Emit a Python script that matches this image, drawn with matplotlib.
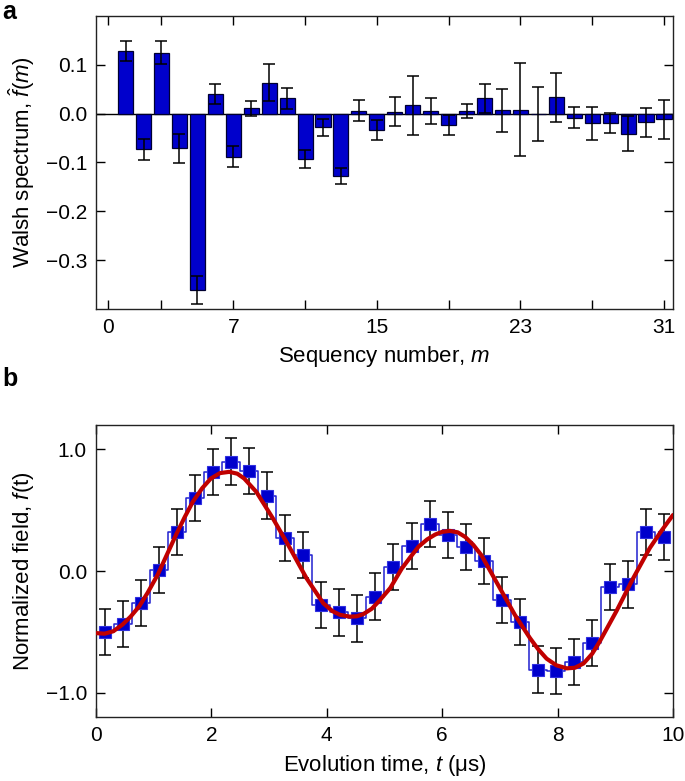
import numpy as np
import matplotlib
matplotlib.use('Agg')
import matplotlib.pyplot as plt

plt.rcParams['font.family'] = ['Liberation Sans', 'DejaVu Sans']
plt.rcParams['mathtext.fontset'] = 'custom'
plt.rcParams['mathtext.rm'] = 'Liberation Sans'
plt.rcParams['mathtext.it'] = 'Liberation Sans:italic'
plt.rcParams['axes.unicode_minus'] = True

# panel a: Walsh spectrum
seq = list(range(1, 32))
walsh = [0.128, -0.073, 0.125, -0.071, -0.361, 0.040, -0.088, 0.011, 0.063, 0.031,
         -0.093, -0.028, -0.128, 0.006, -0.034, 0.004, 0.017, 0.005, -0.023, 0.005,
         0.031, 0.007, 0.008, -0.001, 0.033, -0.008, -0.020, -0.019, -0.041, -0.018,
         -0.012]
walsh_err = [0.020, 0.022, 0.024, 0.030, 0.028, 0.021, 0.021, 0.015, 0.038, 0.021,
             0.019, 0.017, 0.016, 0.021, 0.020, 0.030, 0.060, 0.027, 0.020, 0.014,
             0.030, 0.044, 0.095, 0.056, 0.050, 0.022, 0.034, 0.020, 0.036, 0.029,
             0.040]

# panel b: reconstructed field
t_bins = [0.156, 0.469, 0.781, 1.094, 1.406, 1.719, 2.031, 2.344, 2.656, 2.969,
          3.281, 3.594, 3.906, 4.219, 4.531, 4.844, 5.156, 5.469, 5.781, 6.094,
          6.406, 6.719, 7.031, 7.344, 7.656, 7.969, 8.281, 8.594, 8.906, 9.219,
          9.531, 9.844]
field = [-0.50, -0.435, -0.26, 0.01, 0.32, 0.60, 0.815, 0.90, 0.825, 0.62,
         0.27, 0.13, -0.28, -0.34, -0.39, -0.21, 0.035, 0.205, 0.386, 0.296,
         0.20, 0.08, -0.24, -0.42, -0.81, -0.82, -0.75, -0.59, -0.13, -0.11,
         0.32, 0.28]
field_err = [0.19] * 32

# red curve
t_fit = [0.0, 0.15, 0.30, 0.46, 0.60, 0.75, 0.90, 1.07, 1.23, 1.39, 1.54, 1.68, 1.84,
         1.99, 2.15, 2.31, 2.45, 2.57, 2.78, 3.07, 3.36, 3.65, 3.94, 4.10, 4.23, 4.40,
         4.52, 4.63, 4.78, 4.92, 5.10, 5.30, 5.45, 5.59, 5.74, 5.88, 6.00, 6.13, 6.27,
         6.40, 6.54, 6.68, 6.97, 7.26, 7.52, 7.66, 7.81, 7.98, 8.16, 8.30, 8.45, 8.60,
         8.73, 9.02, 9.31, 9.60, 9.80, 10.0]
f_fit = [-0.51, -0.515, -0.495, -0.44, -0.375, -0.29, -0.175, -0.03, 0.135, 0.30,
         0.445, 0.57, 0.68, 0.76, 0.805, 0.815, 0.80, 0.76, 0.65, 0.43, 0.19, -0.06,
         -0.265, -0.33, -0.36, -0.375, -0.372, -0.355, -0.31, -0.24, -0.14, 0.02,
         0.115, 0.20, 0.26, 0.30, 0.322, 0.33, 0.318, 0.28, 0.215, 0.13, -0.115,
         -0.36, -0.55, -0.64, -0.72, -0.775, -0.80, -0.795, -0.76, -0.68, -0.58,
         -0.33, -0.06, 0.19, 0.33, 0.46]

fig = plt.figure(figsize=(6.85, 7.81), dpi=100)
ax1 = fig.add_axes([0.1401, 0.6044, 0.8423, 0.3752])
ax2 = fig.add_axes([0.1401, 0.0819, 0.8423, 0.3739])

for ax in (ax1, ax2):
    ax.tick_params(direction='in', top=True, right=True, length=6.5, width=1,
                   labelsize=15, pad=6.5)
    for s in ax.spines.values():
        s.set_linewidth(1.0)
        s.set_color('#222222')

# panel a
ax1.bar(seq, walsh, width=0.84, color='#0000CC', edgecolor='#000030', linewidth=0.9, zorder=2)
ax1.errorbar(seq, walsh, yerr=walsh_err, fmt='none', ecolor='black', elinewidth=1.1,
             capsize=4, capthick=1.1, zorder=3)
ax1.axhline(0, color='black', lw=1.0, zorder=1)
ax1.set_xlim(-0.65, 31.5)
ax1.set_ylim(-0.4, 0.2)
ax1.set_xticks([0, 3, 7, 11, 15, 19, 23, 27, 31])
ax1.set_xticklabels(['0', '', '7', '', '15', '', '23', '', '31'])
ax1.set_yticks([-0.3, -0.2, -0.1, 0.0, 0.1])
ax1.set_yticklabels(['\u22120.3', '\u22120.2', '\u22120.1', '0.0', '0.1'])
ax1.set_xlabel('Sequency number, $m$', fontsize=16, labelpad=5)
ax1.set_ylabel('Walsh spectrum, $\\hat{f}(m)$', fontsize=16, labelpad=6)

# panel b
ax2.step(t_bins, field, where='mid', color='#2020D0', lw=1.1, zorder=2)
ax2.errorbar(t_bins, field, yerr=field_err, fmt='none', ecolor='black', elinewidth=1.1,
             capsize=4.5, capthick=1.1, zorder=3)
ax2.plot(t_bins, field, 's', color='#0000CC', mec='#3030E0', mew=0.8, ms=8.5, zorder=4)
ax2.plot(t_fit, f_fit, color='#C00000', lw=3.0, solid_capstyle='round', zorder=5)
ax2.set_xlim(0, 10)
ax2.set_ylim(-1.2, 1.2)
ax2.set_xticks([0, 2, 4, 6, 8, 10])
ax2.set_yticks([-1.0, 0.0, 1.0])
ax2.set_yticklabels(['\u22121.0', '0.0', '1.0'])
ax2.set_xlabel('Evolution time, $t$ (\u03bcs)', fontsize=16, labelpad=6)
ax2.set_ylabel('Normalized field, $f$(t)', fontsize=16, labelpad=7)

fig.text(0.003, 1.0, 'a', fontsize=18, fontweight='bold', va='top', ha='left')
fig.text(0.003, 0.53, 'b', fontsize=18, fontweight='bold', va='top', ha='left')

fig.savefig('out.png', dpi=100)
